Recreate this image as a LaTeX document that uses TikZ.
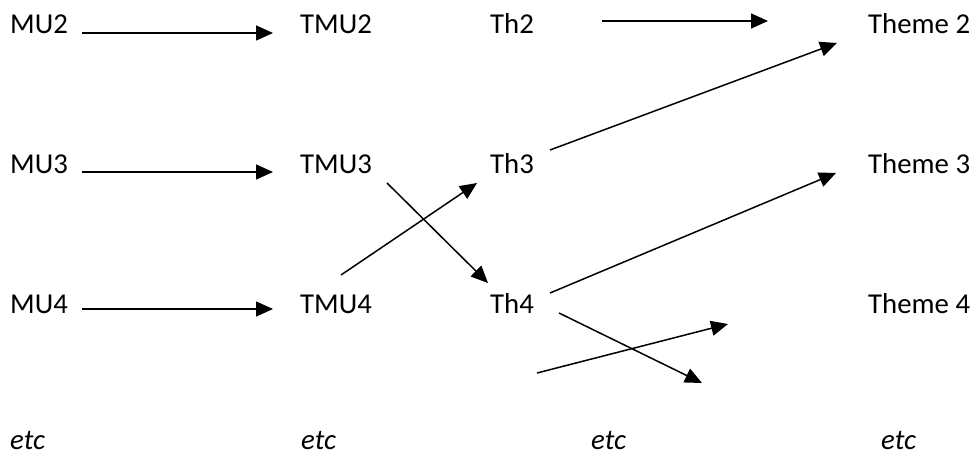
\documentclass[tikz,border=0pt]{standalone}
\usepackage{fontspec}
\setmainfont{Carlito}
\usetikzlibrary{arrows.meta}
\begin{document}
\begin{tikzpicture}[x=1pt,y=-1pt,
  lbl/.style={anchor=base west,inner sep=0pt,font=\fontsize{28.8}{34}\selectfont},
  etclbl/.style={lbl,font=\fontsize{28.8}{34}\selectfont\itshape},
  conn/.style={line width=1.5pt,-{Triangle[length=17pt,width=15pt]}}]
\useasboundingbox (0,0) rectangle (970,457);

% first column: meaning units
\node[lbl] (MU2) at (10,34) {MU2};
\node[lbl] (MU3) at (10,174) {MU3};
\node[lbl] (MU4) at (10,314) {MU4};
\node[etclbl] (etc1) at (10,449) {etc};

% second column: transformed meaning units
\node[lbl] (TMU2) at (300,34) {TMU2};
\node[lbl] (TMU3) at (300,174) {TMU3};
\node[lbl] (TMU4) at (300,314) {TMU4};
\node[etclbl] (etc2) at (301,449) {etc};

% third column: tentative themes
\node[lbl] (Th2) at (490,34) {Th2};
\node[lbl] (Th3) at (490,174) {Th3};
\node[lbl] (Th4) at (490,314) {Th4};
\node[etclbl] (etc3) at (591,449) {etc};

% fourth column: themes
\node[lbl] (Theme2) at (868,34) {Theme 2};
\node[lbl] (Theme3) at (868,174) {Theme 3};
\node[lbl] (Theme4) at (868,314) {Theme 4};
\node[etclbl] (etc4) at (881,449) {etc};

% loose ends
\coordinate (th2end) at (768,21);
\coordinate (th4end) at (702,383);
\coordinate (freeA) at (537,373);
\coordinate (freeB) at (728,324);

% MU -> TMU
\draw[conn] ([xshift=72pt,yshift=1pt]MU2.base west) -- ([xshift=-27pt,yshift=1pt]TMU2.base west);
\draw[conn] ([xshift=72pt,yshift=2pt]MU3.base west) -- ([xshift=-27pt,yshift=2pt]TMU3.base west);
\draw[conn] ([xshift=72pt,yshift=5pt]MU4.base west) -- ([xshift=-27pt,yshift=5pt]TMU4.base west);

% TMU -> Th
\draw[conn] ([xshift=87pt,yshift=-9pt]TMU3.base west) -- ([xshift=-2pt,yshift=31pt]Th4.base west);
\draw[conn] ([xshift=41pt,yshift=39pt]TMU4.base west) -- ([xshift=-13pt,yshift=-9pt]Th3.base west);

% Th -> Theme
\draw[conn] ([xshift=112pt,yshift=13pt]Th2.base west) -- (th2end);
\draw[conn] ([xshift=60pt,yshift=24pt]Th3.base west) -- ([xshift=-31pt,yshift=-9pt]Theme2.base west);
\draw[conn] ([xshift=60pt,yshift=21pt]Th4.base west) -- ([xshift=-32pt,yshift=1pt]Theme3.base west);
\draw[conn] ([xshift=69pt,yshift=1pt]Th4.base west) -- (th4end);
\draw[conn] (freeA) -- (freeB);
\end{tikzpicture}
\end{document}
